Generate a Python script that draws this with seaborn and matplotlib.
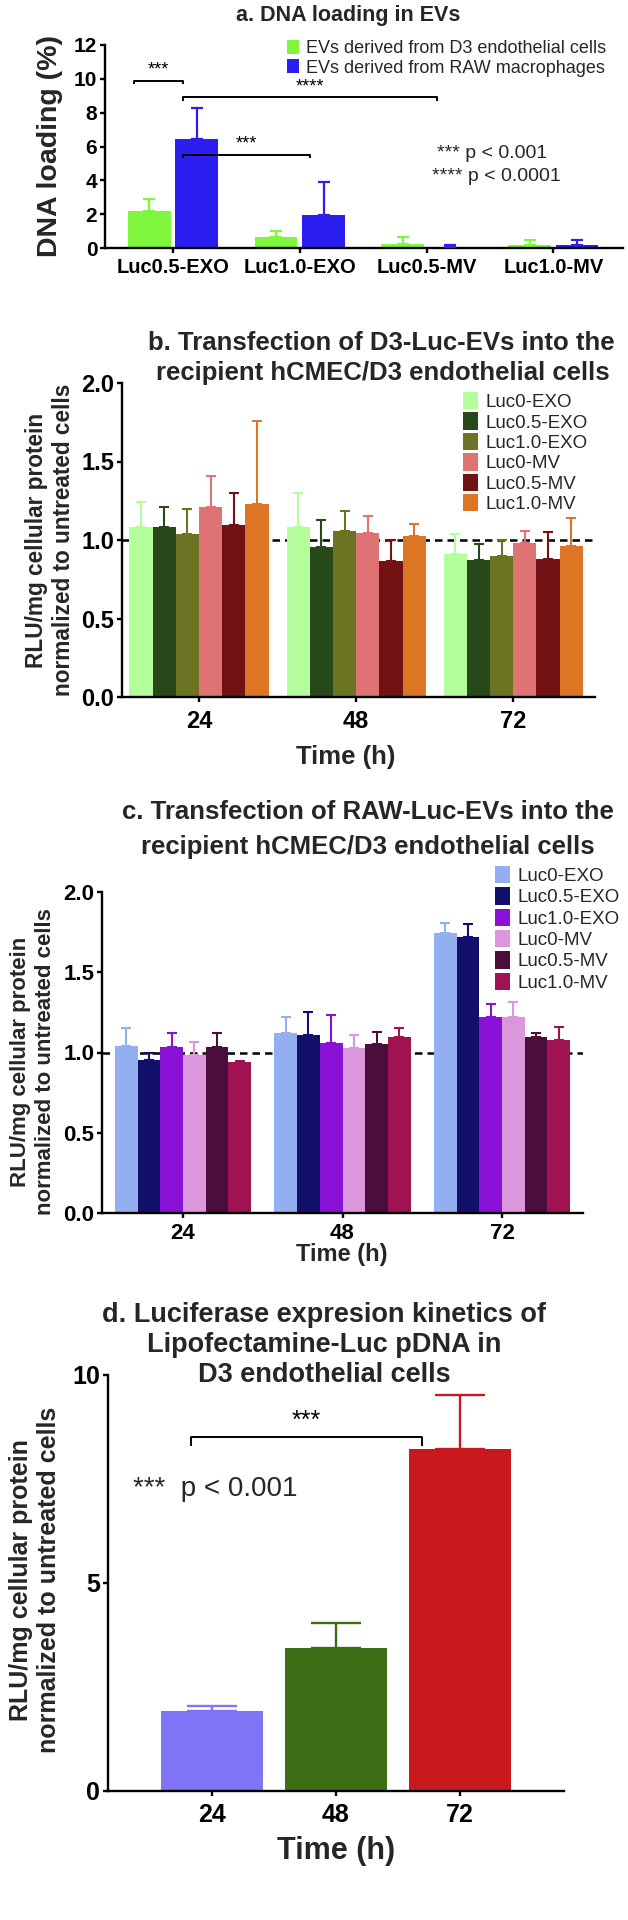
"""Recreate the four-panel EV loading / transfection figure."""
import matplotlib

matplotlib.use("Agg")

import matplotlib.pyplot as plt  # noqa: E402
import numpy as np  # noqa: E402
import pandas as pd  # noqa: E402
import seaborn as sns  # noqa: E402

W, H = 628, 1920

# a. DNA loading in EVs
A_GROUPS = ["Luc0.5-EXO", "Luc1.0-EXO", "Luc0.5-MV", "Luc1.0-MV"]
A_SOURCES = ["EVs derived from D3 endothelial cells", "EVs derived from RAW macrophages"]
A_D3_MEAN = [2.2, 0.65, 0.24, 0.17]
A_D3_ERR = [0.7, 0.35, 0.41, 0.33]
A_RAW_MEAN = [6.45, 1.95, 0.06, 0.17]
A_RAW_ERR = [1.83, 1.95, 0.09, 0.30]
A_COLORS = ["#80F73C", "#2B1EEE"]

# b / c share the time points and EV types
TIMES = ["24", "48", "72"]
EV_TYPES = ["Luc0-EXO", "Luc0.5-EXO", "Luc1.0-EXO", "Luc0-MV", "Luc0.5-MV", "Luc1.0-MV"]

# b. D3-Luc-EVs (rows = EV type, cols = 24/48/72 h)
B_MEAN = [
    [1.08, 1.085, 0.91],
    [1.085, 0.957, 0.873],
    [1.036, 1.06, 0.898],
    [1.21, 1.047, 0.983],
    [1.095, 0.864, 0.877],
    [1.23, 1.025, 0.96],
]
B_ERR = [
    [0.16, 0.215, 0.13],
    [0.125, 0.173, 0.102],
    [0.164, 0.125, 0.102],
    [0.20, 0.108, 0.077],
    [0.205, 0.136, 0.176],
    [0.53, 0.08, 0.18],
]
B_COLORS = ["#B4FE9C", "#27491A", "#6C7322", "#DF7272", "#731214", "#DC7524"]

# c. RAW-Luc-EVs
C_MEAN = [
    [1.04, 1.12, 1.745],
    [0.953, 1.109, 1.722],
    [1.037, 1.061, 1.219],
    [0.987, 1.026, 1.219],
    [1.037, 1.051, 1.099],
    [0.939, 1.097, 1.078],
]
C_ERR = [
    [0.11, 0.103, 0.06],
    [0.042, 0.143, 0.078],
    [0.083, 0.174, 0.083],
    [0.076, 0.083, 0.098],
    [0.086, 0.075, 0.021],
    [0.006, 0.054, 0.079],
]
C_COLORS = ["#93AFF0", "#12106A", "#8A12D6", "#DC96DC", "#4A0D3C", "#A11350"]

# d. Lipofectamine-Luc pDNA
D_MEAN = [1.92, 3.44, 8.22]
D_ERR = [0.12, 0.60, 1.30]
D_COLORS = ["#7F73F6", "#3B6E15", "#C9181E"]

# significance brackets: (x0, x1, y, label)
A_BRACKETS = [(-0.31, 0.08, 9.9, "***"), (0.08, 2.08, 8.9, "****"), (0.08, 1.08, 5.5, "***")]
D_BRACKETS = [(-0.17, 1.69, 8.5, "***")]

sns.set_theme(style="ticks")
plt.rcParams["font.family"] = ["Liberation Sans", "DejaVu Sans"]

fig = plt.figure(figsize=(W / 100, H / 100), dpi=100)


def fx(px):
    return px / W


def fy(py):
    return 1 - py / H


def make_axes(left, right, top, bottom):
    return fig.add_axes([left / W, 1 - bottom / H, (right - left) / W, (bottom - top) / H])


def style_axes(ax, size, pad):
    sns.despine(ax=ax)
    for side in ("left", "bottom"):
        ax.spines[side].set_linewidth(1.7)
        ax.spines[side].set_color("black")
    ax.tick_params(direction="out", length=3.5, width=1.7, colors="black", labelsize=size, pad=pad)
    for lbl in ax.get_xticklabels() + ax.get_yticklabels():
        lbl.set_fontweight("bold")
    ax.set_xlabel("")
    ax.set_ylabel("")


def bars(ax, cats, levels, means, errs, colors, width, gap, capsize, lw):
    df = pd.DataFrame(
        [(c, lv, means[i][j]) for i, lv in enumerate(levels) for j, c in enumerate(cats)],
        columns=["cat", "lvl", "val"],
    )
    sns.barplot(data=df, x="cat", y="val", hue="lvl", order=cats, hue_order=levels,
                palette=colors, width=width, gap=gap, errorbar=None, saturation=1,
                linewidth=0, ax=ax)
    for cont, err, col in zip(ax.containers, errs, colors):
        xs = [b.get_x() + b.get_width() / 2 for b in cont]
        hs = [b.get_height() for b in cont]
        ax.errorbar(xs, hs, yerr=[np.zeros(len(hs)), err], fmt="none", ecolor=col,
                    elinewidth=lw, capsize=capsize, capthick=lw, zorder=3)


def legend(ax, x, y, size, hl, hh, pad, spacing):
    handles, labels = ax.get_legend_handles_labels()
    ax.legend(handles, labels, loc="upper left", bbox_to_anchor=(fx(x), fy(y)),
              bbox_transform=fig.transFigure, frameon=False, fontsize=size,
              handlelength=hl, handleheight=hh, handletextpad=pad, labelspacing=spacing,
              borderpad=0, borderaxespad=0)


def brackets(ax, items, drop, size):
    for x0, x1, y, label in items:
        ax.plot([x0, x0, x1, x1], [y - drop, y, y, y - drop], color="black", lw=1.4,
                solid_capstyle="butt", zorder=4)
        ax.text((x0 + x1) / 2, y + drop * 0.6, label, ha="center", va="bottom",
                fontsize=size, color="black")


# ---- panel a ----
ax = make_axes(105, 623, 45, 248)
bars(ax, A_GROUPS, A_SOURCES, [A_D3_MEAN, A_RAW_MEAN], [A_D3_ERR, A_RAW_ERR], A_COLORS,
     width=0.75, gap=0.1, capsize=4.5, lw=1.6)
ax.set_xlim(-0.537, 3.55)
ax.set_ylim(0, 12)
ax.set_yticks(range(0, 13, 2))
style_axes(ax, 15, 2)
ax.tick_params(axis="x", labelsize=14.5, pad=4)
legend(ax, 287, 40, 13, 0.68, 0.8, 0.4, 0.12)
brackets(ax, A_BRACKETS, 0.2, 13)
ax.text(2.08, 5.56, "*** p < 0.001", ha="left", va="center", fontsize=14)
ax.text(2.04, 4.2, "**** p < 0.0001", ha="left", va="center", fontsize=14)
fig.text(fx(348), fy(15), "a. DNA loading in EVs", ha="center", va="center",
         fontsize=15.5, fontweight="bold")
fig.text(fx(50), fy(146), "DNA loading (%)", rotation=90, ha="center", va="center",
         fontsize=20.5, fontweight="bold")

# ---- panel b ----
ax = make_axes(122, 595, 383, 697)
ax.axhline(1.0, color="black", ls=(0, (3, 2)), lw=1.8, zorder=0.5)
bars(ax, TIMES, EV_TYPES, B_MEAN, B_ERR, B_COLORS, width=0.885, gap=0, capsize=3.8, lw=1.5)
ax.set_xlim(-0.49, 2.52)
ax.set_ylim(0, 2)
ax.set_yticks([0, 0.5, 1.0, 1.5, 2.0])
ax.set_yticklabels(["0.0", "0.5", "1.0", "1.5", "2.0"])
style_axes(ax, 17, 2)
ax.tick_params(axis="x", pad=6)
legend(ax, 463, 392, 13.5, 0.8, 1.05, 0.42, 0.07)
fig.text(fx(381), fy(343), "b. Transfection of D3-Luc-EVs into the", ha="center",
         va="center", fontsize=18.5, fontweight="bold")
fig.text(fx(383), fy(373), "recipient hCMEC/D3 endothelial cells", ha="center",
         va="center", fontsize=18.5, fontweight="bold")
fig.text(fx(50), fy(540), "RLU/mg cellular protein\nnormalized to untreated cells",
         rotation=90, ha="center", va="center", fontsize=16.3, fontweight="bold")
fig.text(fx(346), fy(757), "Time (h)", ha="center", va="center", fontsize=18.5,
         fontweight="bold")

# ---- panel c ----
ax = make_axes(102, 583, 892, 1213)
ax.axhline(1.0, color="black", ls=(0, (3, 2)), lw=1.8, zorder=0.5)
bars(ax, TIMES, EV_TYPES, C_MEAN, C_ERR, C_COLORS, width=0.853, gap=0, capsize=3.8, lw=1.5)
ax.set_xlim(-0.508, 2.508)
ax.set_ylim(0, 2)
ax.set_yticks([0, 0.5, 1.0, 1.5, 2.0])
ax.set_yticklabels(["0.0", "0.5", "1.0", "1.5", "2.0"])
style_axes(ax, 16, 2)
ax.tick_params(axis="x", pad=4)
legend(ax, 495, 866, 13.5, 0.8, 1.05, 0.42, 0.12)
fig.text(fx(368), fy(812), "c. Transfection of RAW-Luc-EVs into the", ha="center",
         va="center", fontsize=18.5, fontweight="bold")
fig.text(fx(368), fy(847), "recipient hCMEC/D3 endothelial cells", ha="center",
         va="center", fontsize=18.5, fontweight="bold")
fig.text(fx(33), fy(1062), "RLU/mg cellular protein\nnormalized to untreated cells",
         rotation=90, ha="center", va="center", fontsize=16, fontweight="bold")
fig.text(fx(342), fy(1255), "Time (h)", ha="center", va="center", fontsize=17,
         fontweight="bold")

# ---- panel d ----
ax = make_axes(108, 564, 1375, 1791)
sns.barplot(x=TIMES, y=D_MEAN, hue=TIMES, palette=D_COLORS, width=0.82, saturation=1,
            errorbar=None, linewidth=0, legend=False, ax=ax)
for cont, err, col in zip(ax.containers, D_ERR, D_COLORS):
    b = cont[0]
    ax.errorbar(b.get_x() + b.get_width() / 2, b.get_height(), yerr=[[0], [err]],
                fmt="none", ecolor=col, elinewidth=1.7, capsize=18, capthick=1.7, zorder=3)
ax.set_xlim(-0.84, 2.84)
ax.set_ylim(0, 10)
ax.set_yticks([0, 5, 10])
style_axes(ax, 18, 2)
ax.tick_params(axis="x", pad=5)
brackets(ax, D_BRACKETS, 0.2, 18)
ax.text(-0.64, 7.26, "***  p < 0.001", ha="left", va="center", fontsize=20)
for i, line in enumerate(["d. Luciferase expresion kinetics of",
                          "Lipofectamine-Luc pDNA in", "D3 endothelial cells"]):
    fig.text(fx(324), fy(1315 + 30 * i), line, ha="center", va="center", fontsize=19.5,
             fontweight="bold")
fig.text(fx(35), fy(1580), "RLU/mg cellular protein\nnormalized to untreated cells",
         rotation=90, ha="center", va="center", fontsize=18, fontweight="bold")
fig.text(fx(336), fy(1851), "Time (h)", ha="center", va="center", fontsize=22,
         fontweight="bold")

fig.savefig("out.png", dpi=100)
